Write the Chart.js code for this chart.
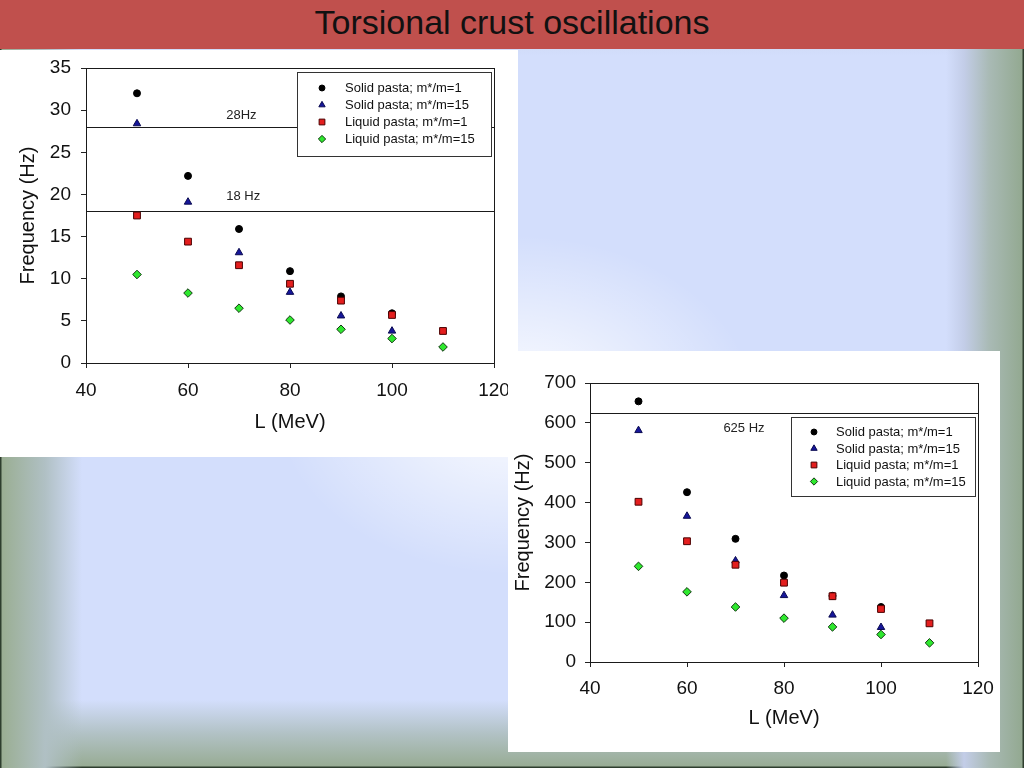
<!DOCTYPE html>
<html>
<head>
<meta charset="utf-8">
<script src="https://cdn.jsdelivr.net/npm/chart.js@4.4.0/dist/chart.umd.min.js"></script>
<style>
    html, body { margin: 0; padding: 0; }
    body {
        width: 1024px; height: 768px; position: relative; overflow: hidden;
        font-family: "Liberation Sans", Arial, sans-serif;
        background:
            radial-gradient(ellipse 240px 170px at 515px 405px, rgba(255,255,255,0.95), rgba(255,255,255,0) 100%),
            linear-gradient(to right, #2e3e2e 0, #2e3e2e 1px, #9aae93 2px, #b0c0c4 45px, rgba(211,222,252,0) 82px),
            linear-gradient(to left, #2e3e2e 0, #2e3e2e 1px, #93a991 2px, #a9bab5 35px, #c3cde8 60px, rgba(211,222,252,0) 78px),
            linear-gradient(to top, #2e3e2e 0, #2e3e2e 1px, #98ac94 2px, #b2c2c6 35px, rgba(211,222,252,0) 68px),
            linear-gradient(to bottom, #c2cde4 0, rgba(211,222,252,0) 56px),
            #d3defc;
    }
    #titlebar { position: absolute; left: 0; top: 0; width: 1024px; height: 49px; background: #c0504d; }
    #titlebar h1 {
        margin: 0; text-align: center; color: #111; font-weight: normal;
        font: 34px "Liberation Sans Narrow", "Liberation Sans", Arial, sans-serif; line-height: 44px;
    }
    .panel { position: absolute; background: #fff; }
    #p1 { left: 0; top: 50px; width: 518px; height: 407px; }
    #p2 { left: 508px; top: 351px; width: 492px; height: 401px; }
    canvas { display: block; }
</style>
</head>
<body>
<div id="titlebar"><h1>Torsional crust oscillations</h1></div>
<div class="panel" id="p1"><canvas id="chart1" width="518" height="407"></canvas></div>
<div class="panel" id="p2"><canvas id="chart2" width="492" height="401"></canvas></div>

<script>
// L values (MeV)
const lValues = [50, 60, 70, 80, 90, 100, 110];
const seriesNames = ['Solid pasta; m*/m=1', 'Solid pasta; m*/m=15', 'Liquid pasta; m*/m=1', 'Liquid pasta; m*/m=15'];

// fundamental mode (Hz)
const solidM1Low = [32.0, 22.2, 15.9, 10.9, 7.9, 5.9, null];
const solidM15Low = [28.4, 19.1, 13.1, 8.4, 5.6, 3.8, null];
const liquidM1Low = [17.5, 14.4, 11.6, 9.4, 7.4, 5.7, 3.8];
const liquidM15Low = [10.5, 8.3, 6.5, 5.1, 4.0, 2.9, 1.9];
const refLinesLow = [28, 18];
const refLabelsLow = ['28Hz', '18 Hz'];

// first overtone (Hz)
const solidM1High = [654, 426, 309, 217, 166, 138, null];
const solidM15High = [581, 366, 254, 167, 118, 87, null];
const liquidM1High = [402, 303, 244, 199, 165, 133, 97];
const liquidM15High = [240, 176, 138, 110, 88, 69, 48];
const refLinesHigh = [625];
const refLabelsHigh = ['625 Hz'];

const xTicks = [40, 60, 80, 100, 120];

const FONT = '"Liberation Sans", Arial, sans-serif';

// marker styles, in legend order
const markers = [
    { pointStyle: 'circle', radius: 3.5, bg: '#000000', border: '#000000' },
    { pointStyle: 'triangle', radius: 4.3, bg: '#16169a', border: '#0a0a50' },
    { pointStyle: 'rect', radius: 4.8, bg: '#e41e1e', border: '#4a0000' },
    { pointStyle: 'rectRot', radius: 4.3, bg: '#2ee82e', border: '#123812' }
];

function toPoints(values) {
    return lValues.map((x, i) => ({ x: x, y: values[i] })).filter(p => p.y !== null);
}

function makeDatasets(seriesList) {
    return seriesList.map((values, i) => ({
        label: seriesNames[i],
        data: toPoints(values),
        pointStyle: markers[i].pointStyle,
        pointRadius: markers[i].radius,
        backgroundColor: markers[i].bg,
        borderColor: markers[i].border,
        borderWidth: 1,
        showLine: false,
        order: 4 - i   // later series drawn on top
    }));
}

// Frame, reference lines and in-plot legend
const framePlugin = {
    id: 'frame',
    beforeDatasetsDraw(chart, args, opts) {
        const { ctx, chartArea: a, scales: { x, y } } = chart;
        ctx.save();
        ctx.strokeStyle = '#1a1a1a';
        ctx.fillStyle = '#222';
        ctx.lineWidth = 1;
        ctx.font = '13px ' + FONT;
        ctx.textBaseline = 'middle';
        opts.lines.forEach((v, i) => {
            const py = Math.round(y.getPixelForValue(v)) + 0.5;
            ctx.beginPath();
            ctx.moveTo(a.left, py);
            ctx.lineTo(a.right, py);
            ctx.stroke();
            ctx.fillText(opts.labels[i], x.getPixelForValue(opts.labelX), py + opts.labelDy[i]);
        });
        ctx.strokeRect(Math.round(a.left) + 0.5, Math.round(a.top) + 0.5,
            Math.round(a.right - a.left), Math.round(a.bottom - a.top));
        ctx.restore();
    },
    afterDatasetsDraw(chart, args, opts) {
        const { ctx, chartArea: a } = chart;
        const lg = opts.legend;
        const bx = Math.round(a.left + lg.dx), by = Math.round(a.top + lg.dy);
        ctx.save();
        ctx.fillStyle = '#fff';
        ctx.fillRect(bx, by, lg.w, lg.h);
        ctx.strokeStyle = '#333';
        ctx.lineWidth = 1;
        ctx.strokeRect(bx + 0.5, by + 0.5, lg.w, lg.h);
        ctx.font = '13px ' + FONT;
        ctx.textBaseline = 'middle';
        chart.data.datasets.forEach((ds, i) => {
            const cy = by + lg.row0 + i * lg.rowStep;
            const m = markers[i];
            ctx.fillStyle = m.bg;
            ctx.strokeStyle = m.border;
            ctx.lineWidth = 1;
            if (Chart.helpers && Chart.helpers.drawPoint) {
                Chart.helpers.drawPoint(ctx, { pointStyle: m.pointStyle, radius: m.radius * 0.85, rotation: 0, borderWidth: 1 }, bx + lg.markerX, cy);
            } else {
                ctx.beginPath();
                ctx.arc(bx + lg.markerX, cy, 3, 0, Math.PI * 2);
                ctx.fill();
            }
            ctx.fillStyle = '#111';
            ctx.fillText(ds.label, bx + lg.textX, cy + 0.5);
        });
        ctx.restore();
    }
};

function makeChart(canvasId, seriesList, cfg) {
    return new Chart(document.getElementById(canvasId), {
        type: 'scatter',
        data: { datasets: makeDatasets(seriesList) },
        options: {
            responsive: false,
            animation: false,
            devicePixelRatio: 1,
            events: [],
            layout: { padding: { top: cfg.padTop, right: cfg.padRight, left: 0, bottom: 0 } },
            plugins: {
                legend: { display: false },
                tooltip: { enabled: false },
                frame: {
                    lines: cfg.lines,
                    labels: cfg.lineLabels,
                    labelX: 67.5,
                    labelDy: cfg.labelDy,
                    legend: cfg.legend
                }
            },
            scales: {
                x: {
                    type: 'linear',
                    min: 40, max: 120,
                    afterBuildTicks: s => { s.ticks = xTicks.map(v => ({ value: v })); },
                    afterFit: s => { s.height = cfg.xHeight; s.paddingLeft = 0; s.paddingRight = 0; },
                    border: { display: false },
                    grid: { drawOnChartArea: false, drawTicks: true, tickLength: 5, color: '#222' },
                    ticks: { color: '#111', font: { size: 19, family: FONT }, padding: cfg.xTickPad, maxRotation: 0 },
                    title: { display: true, text: 'L (MeV)', color: '#111', font: { size: 20, family: FONT }, padding: { top: 0, bottom: cfg.xTitlePad } }
                },
                y: {
                    type: 'linear',
                    min: 0, max: cfg.yMax,
                    ticks: { stepSize: cfg.yStep, color: '#111', font: { size: 19, family: FONT }, padding: cfg.yTickPad },
                    afterFit: s => { s.width = cfg.yWidth; s.paddingTop = 0; s.paddingBottom = 0; },
                    border: { display: false },
                    grid: { drawOnChartArea: false, drawTicks: true, tickLength: 5, color: '#222' },
                    title: { display: true, text: 'Frequency (Hz)', color: '#111', font: { size: 20, family: FONT }, padding: { top: cfg.yTitlePad, bottom: 0 } }
                }
            }
        },
        plugins: [framePlugin]
    });
}

makeChart('chart1', [solidM1Low, solidM15Low, liquidM1Low, liquidM15Low], {
    yMax: 35, yStep: 5,
    padTop: 18, padRight: 24, yWidth: 86, xHeight: 94,
    xTickPad: 11, yTickPad: 10, xTitlePad: 23, yTitlePad: 16,
    lines: refLinesLow, lineLabels: refLabelsLow, labelDy: [-12, -15],
    legend: { dx: 211, dy: 4, w: 194, h: 84, markerX: 25, textX: 48, row0: 16, rowStep: 17 }
});

makeChart('chart2', [solidM1High, solidM15High, liquidM1High, liquidM15High], {
    yMax: 700, yStep: 100,
    padTop: 32, padRight: 22, yWidth: 82, xHeight: 90,
    xTickPad: 10, yTickPad: 9, xTitlePad: 22, yTitlePad: 3,
    lines: refLinesHigh, lineLabels: refLabelsHigh, labelDy: [15],
    legend: { dx: 201, dy: 34, w: 184, h: 79, markerX: 23, textX: 45, row0: 15, rowStep: 16.5 }
});
</script>
</body>
</html>
